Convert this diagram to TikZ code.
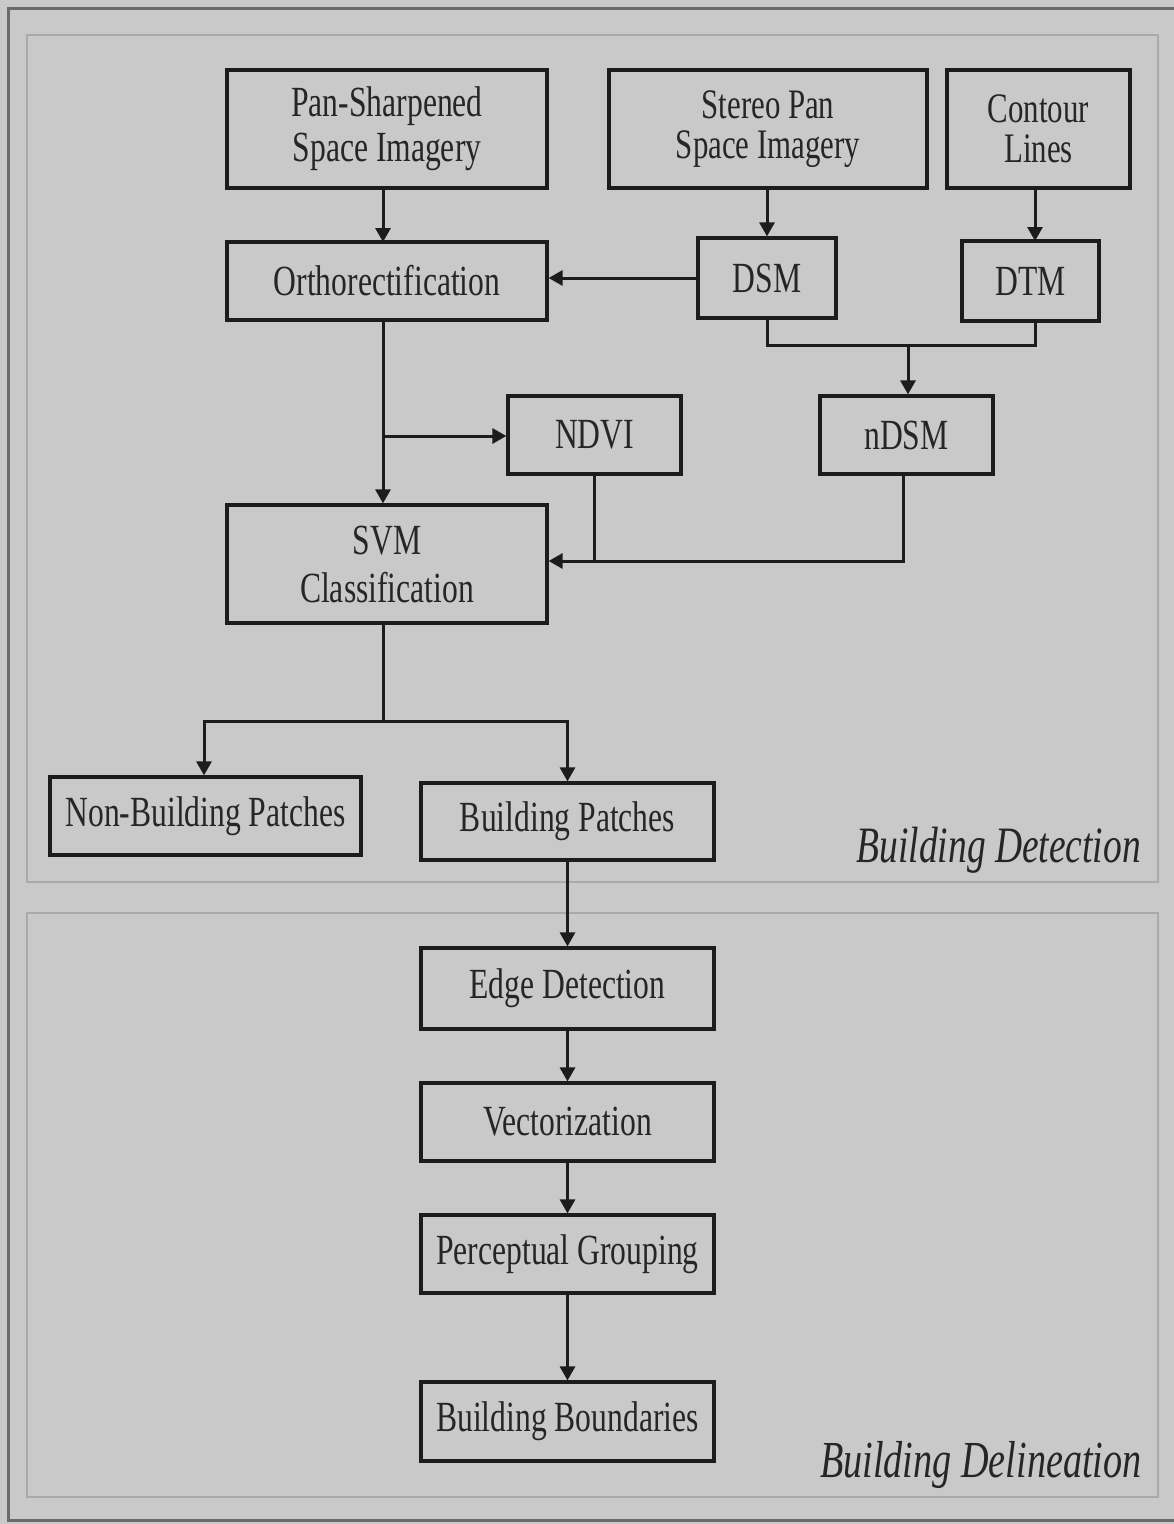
\documentclass[tikz,border=0pt]{standalone}
\usepackage{fontspec}
\setmainfont{Liberation Serif}[FakeStretch=0.735]
\usetikzlibrary{arrows.meta}
\definecolor{bg}{HTML}{C9C9C9}
\definecolor{frameline}{HTML}{6A6A6A}
\definecolor{panelline}{HTML}{AAAAAA}
\definecolor{boxline}{HTML}{1C1C1C}
\definecolor{txt}{HTML}{262626}
\tikzset{
  box/.style={draw=boxline, line width=3.2pt, rectangle, inner sep=0pt, align=center,
    text=txt, font=\fontsize{43}{45}\selectfont},
  twoline/.style={font=\fontsize{42}{40}\selectfont},
  conn/.style={draw=boxline, line width=3pt},
  arr/.style={conn, -{Triangle[length=14pt,width=15pt]}},
  panel/.style={draw=panelline, line width=2pt},
  plabel/.style={text=txt, inner sep=0pt, font=\itshape}
}
\begin{document}
\begin{tikzpicture}[x=1pt,y=-1pt]
\useasboundingbox (0,0) rectangle (1174,1524);
\fill[bg] (0,0) rectangle (1174,1524);
% outer frame
\draw[frameline, line width=3pt] (1174,8) -- (8,8) -- (8,1520) -- (1174,1520);
% panels
\draw[panel] (27,35) rectangle (1158,882);
\draw[panel] (27,913) rectangle (1158,1497);

% nodes
\node[box, minimum width=320pt, minimum height=118pt] (pan) at (387,129) {Pan-Sharpened\\Space Imagery};
\node[box, minimum width=320pt, minimum height=78pt] (ortho) at (387,281) {Orthorectification};
\node[box, twoline, minimum width=318pt, minimum height=118pt] (stereo) at (768,129) {Stereo Pan\\Space Imagery};
\node[box, twoline, minimum width=183pt, minimum height=118pt] (contour) at (1038.5,129) {Contour\\Lines};
\node[box, minimum width=138pt, minimum height=80pt] (dsm) at (767,278) {DSM};
\node[box, minimum width=137pt, minimum height=80pt] (dtm) at (1030.5,281) {DTM};
\node[box, minimum width=173pt, minimum height=78pt] (ndvi) at (594.5,435) {NDVI};
\node[box, minimum width=173pt, minimum height=78pt] (ndsm) at (906.5,435) {nDSM};
\node[box, minimum width=320pt, minimum height=118pt, font=\fontsize{43}{48}\selectfont] (svm) at (387,564) {SVM\\Classification};
\node[box, minimum width=311pt, minimum height=78pt] (nonb) at (205.5,816) {Non-Building Patches};
\node[box, minimum width=293pt, minimum height=77pt] (bp) at (567.5,821.5) {Building Patches};
\node[box, minimum width=293pt, minimum height=81pt] (edge) at (567.5,988.5) {Edge Detection};
\node[box, minimum width=293pt, minimum height=78pt] (vec) at (567.5,1122) {Vectorization};
\node[box, minimum width=293pt, minimum height=78pt] (perc) at (567.5,1254) {Perceptual Grouping};
\node[box, minimum width=293pt, minimum height=79pt] (bb) at (567.5,1421.5) {Building Boundaries};

% panel labels
\node[plabel, anchor=base east, font=\fontsize{51}{52}\selectfont\itshape] (ldet) at (1141,862) {Building Detection};
\node[plabel, anchor=base east, font=\fontsize{52}{53}\selectfont\itshape] (ldel) at (1142,1477) {Building Delineation};

% coordinates
\coordinate (jd) at (908,345);
\coordinate (jn) at (383,436);
\coordinate (jc) at (383,721);

% connectors
\draw[arr] (pan.south -| 383,0) -- (383,242);
\draw[arr] (stereo.south -| dsm.north) -- (dsm.north);
\draw[arr] (contour.south -| 1035,0) -- (1035,241);
\draw[arr] (dsm.west) -- (dsm.west -| ortho.east);
\draw[conn] (dsm.south) |- (jd) -| (dtm.south -| 1035,0);
\draw[arr] (jd) -- (jd |- ndsm.north);
\draw[arr] (ortho.south -| jn) -- (svm.north -| jn);
\draw[arr] (jn) -- (jn -| ndvi.west);
\draw[arr] (ndsm.south -| 903,0) |- (svm.east |- 0,561);
\draw[conn] (ndvi.south) -- (ndvi.south |- 0,561);
\draw[conn] (svm.south -| jc) -- (jc);
\draw[arr] (jc) -| (nonb.north -| 204,0);
\draw[arr] (jc) -| (bp.north);
\draw[arr] (bp.south) -- (edge.north);
\draw[arr] (edge.south) -- (vec.north);
\draw[arr] (vec.south) -- (perc.north);
\draw[arr] (perc.south) -- (bb.north);
\end{tikzpicture}
\end{document}
